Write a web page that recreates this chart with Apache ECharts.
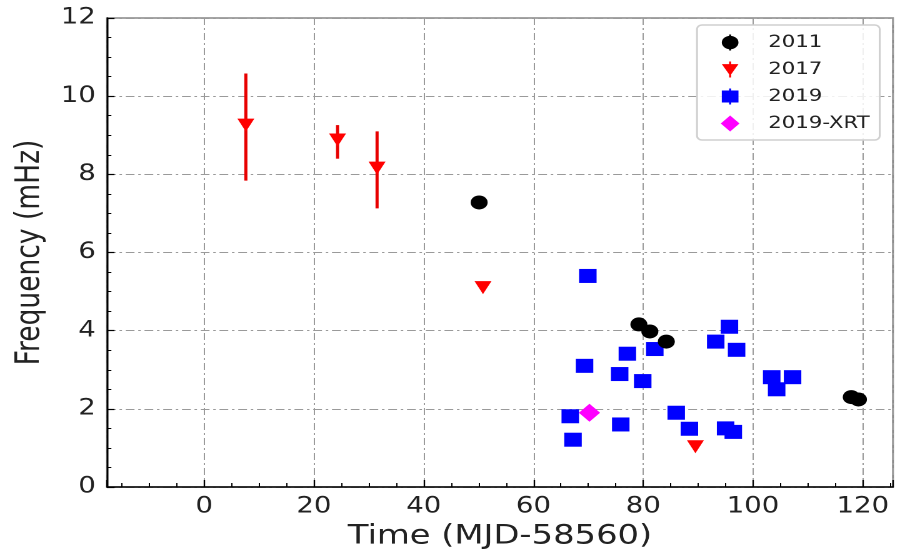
<!DOCTYPE html>
<html>
<head>
<meta charset="utf-8">
<script src="https://cdn.jsdelivr.net/npm/echarts@6/dist/echarts.min.js"></script>
<style>
html,body{margin:0;padding:0;background:#fff;overflow:hidden;width:910px;height:555px}
#c{width:728px;height:555px;transform:scaleX(1.25);transform-origin:0 0}
</style>
</head>
<body>
<div id="c"></div>
<script>
// 2011 (black circles)
const t2011 = [50.1, 79.2, 81.2, 84.2, 117.9, 119.2];
const f2011 = [7.28, 4.16, 3.98, 3.72, 2.30, 2.24];
// 2017 (red down-triangles)
const t2017 = [7.6, 24.3, 31.5, 50.8, 89.5];
const f2017 = [9.26, 8.88, 8.16, 5.10, 1.03];
// 2017 error bars (low, high) for the first three points
const err2017Lo = [7.84, 8.40, 7.13];
const err2017Hi = [10.58, 9.26, 9.10];
// 2019 (blue squares)
const t2019 = [69.9, 95.7, 93.2, 97.0, 82.1, 77.1, 69.3, 75.7, 79.9, 103.4, 107.2, 104.3, 66.7, 86.0, 75.9, 88.4, 95.0, 96.4, 67.2];
const f2019 = [5.40, 4.10, 3.72, 3.51, 3.53, 3.41, 3.10, 2.89, 2.71, 2.81, 2.81, 2.50, 1.81, 1.90, 1.60, 1.49, 1.50, 1.41, 1.21];
// 2019-XRT (magenta diamond)
const tXRT = [70.2];
const fXRT = [1.90];

const xTickLabels = [0, 20, 40, 60, 80, 100, 120];
const yTickLabels = [0, 2, 4, 6, 8, 10, 12];

const zip = (a, b) => a.map((v, i) => [v, b[i]]);
const errData = err2017Lo.map((lo, i) => [t2017[i], lo, err2017Hi[i]]);

const FONT = 'DejaVu Sans';
const TRI_DOWN = 'path://M0,0L10,0L5,8.66Z';
const LEG_CIRCLE = 'path://M0,6a5,5 0 1,1 10,0a5,5 0 1,1 -10,0Z M4.4,0h1.2v12h-1.2Z';
const LEG_TRI = 'path://M0,2L10,2L5,10.66Z M4.4,0h1.2v12h-1.2Z';
const LEG_RECT = 'path://M0,1.5h10v9h-10Z M4.4,0h1.2v12h-1.2Z';
const gridLine = { show: true, lineStyle: { color: '#9a9a9a', width: 1, type: [7, 3, 2, 3] } };

const chart = echarts.init(document.getElementById('c'), null, { renderer: 'canvas', devicePixelRatio: 2 });
chart.setOption({
  animation: false,
  backgroundColor: '#fff',
  grid: { left: 85.6, right: 13.6, top: 18, bottom: 67, show: true, borderColor: '#888', borderWidth: 1.5 },
  legend: {
    orient: 'vertical',
    left: 557.6, top: 25,
    padding: [9, 8, 8, 19],
    itemWidth: 15, itemHeight: 16, itemGap: 10,
    backgroundColor: 'rgba(255,255,255,0.85)',
    borderColor: '#d0d0d0', borderWidth: 1.5, borderRadius: 4,
    textStyle: { fontFamily: FONT, fontSize: 17, color: '#222', padding: [0, 0, 0, 18] },
    data: [
      { name: '2011', icon: LEG_CIRCLE },
      { name: '2017', icon: LEG_TRI },
      { name: '2019', icon: LEG_RECT },
      { name: '2019-XRT', icon: 'diamond' }
    ]
  },
  xAxis: {
    type: 'value',
    min: -17.7, max: 125.5,
    splitNumber: 7, minInterval: 20, maxInterval: 20,
    name: 'Time (MJD-58560)', nameLocation: 'middle', nameGap: 36,
    nameTextStyle: { fontFamily: FONT, fontSize: 27, color: '#222' },
    axisLine: { show: true, onZero: false, lineStyle: { color: '#000', width: 1.5 } },
    axisTick: { show: true, inside: true, length: 7, lineStyle: { color: '#000', width: 1.2 } },
    minorTick: { show: true, splitNumber: 4, length: 4, lineStyle: { color: '#000', width: 1 } },
    axisLabel: {
      fontFamily: FONT, fontSize: 22, color: '#222', margin: 9,
      showMinLabel: false, showMaxLabel: false,
      formatter: v => (xTickLabels.indexOf(v) >= 0 ? String(v) : '')
    },
    splitLine: gridLine
  },
  yAxis: {
    type: 'value',
    min: 0, max: 12, interval: 2,
    name: 'Frequency (mHz)', nameLocation: 'middle', nameGap: 42.5,
    nameTextStyle: { fontFamily: FONT, fontSize: 26.5, color: '#222' },
    axisLine: { show: true, onZero: false, lineStyle: { color: '#000', width: 1.5 } },
    axisTick: { show: true, inside: true, length: 6, lineStyle: { color: '#000', width: 1.2 } },
    minorTick: { show: true, splitNumber: 4, length: 3.5, lineStyle: { color: '#000', width: 1 } },
    axisLabel: {
      fontFamily: FONT, fontSize: 22, color: '#222', margin: 9,
      formatter: v => (yTickLabels.indexOf(v) >= 0 ? String(v) : '')
    },
    splitLine: gridLine
  },
  series: [
    {
      name: '2017-err', type: 'custom', z: 2, silent: true,
      data: errData,
      encode: { x: 0, y: [1, 2] },
      renderItem: (params, api) => {
        const lo = api.coord([api.value(0), api.value(1)]);
        const hi = api.coord([api.value(0), api.value(2)]);
        return { type: 'line', shape: { x1: lo[0], y1: lo[1], x2: hi[0], y2: hi[1] },
                 style: { stroke: '#e80000', lineWidth: 2.5 } };
      }
    },
    { name: '2011', type: 'scatter', z: 4, symbol: 'circle', symbolSize: [13.6, 14],
      itemStyle: { color: '#000', opacity: 1 }, data: zip(t2011, f2011) },
    { name: '2017', type: 'scatter', z: 4, symbol: TRI_DOWN, symbolSize: [13.6, 13],
      itemStyle: { color: '#ff0000', opacity: 1 }, data: zip(t2017, f2017) },
    { name: '2019', type: 'scatter', z: 3, symbol: 'rect', symbolSize: [14, 14],
      itemStyle: { color: '#0000ff', opacity: 1, borderRadius: 1.5 }, data: zip(t2019, f2019) },
    { name: '2019-XRT', type: 'scatter', z: 5, symbol: 'diamond', symbolSize: [17, 18],
      itemStyle: { color: '#ff00ff', opacity: 1 }, data: zip(tXRT, fXRT) }
  ]
});
</script>
</body>
</html>
